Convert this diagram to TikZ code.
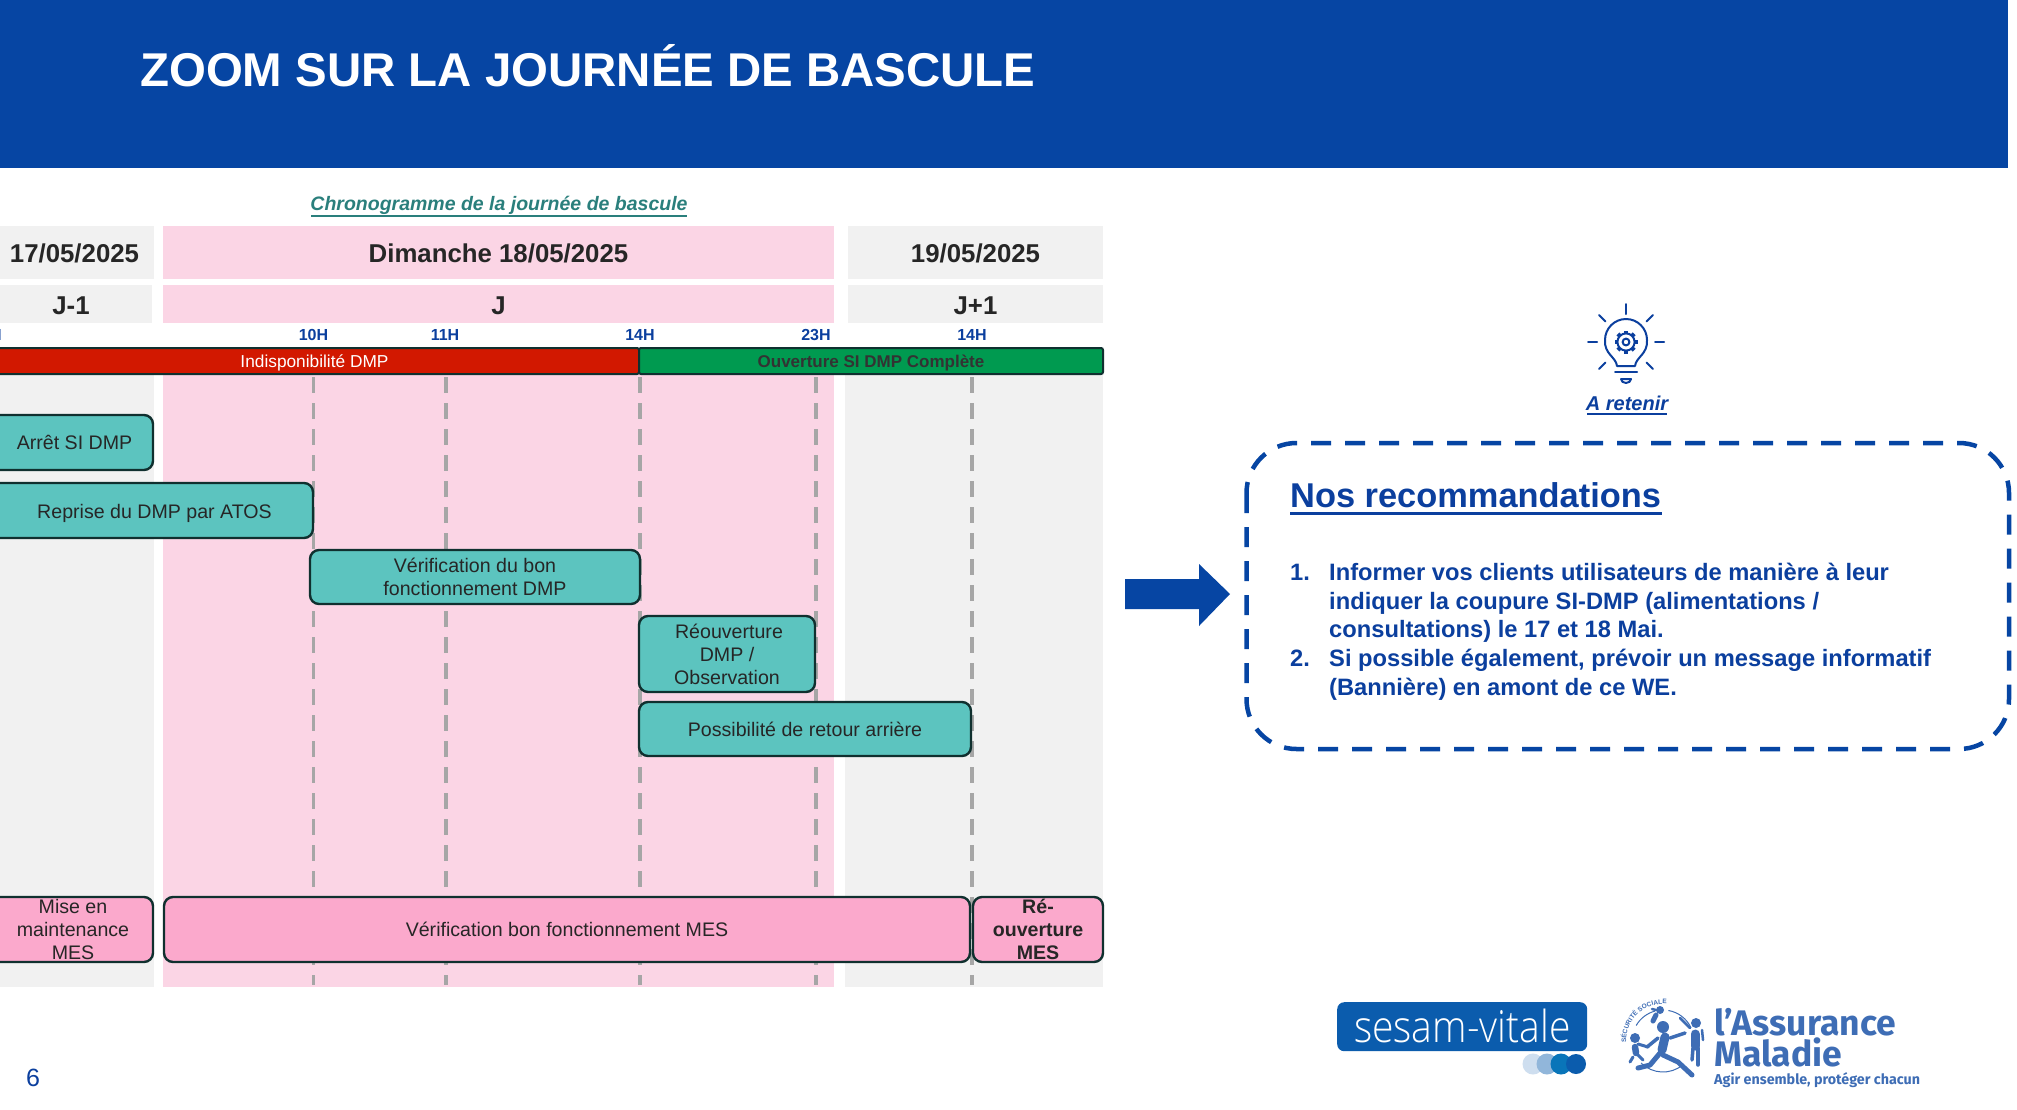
\documentclass[tikz,border=0pt]{standalone}
\usepackage{fontspec}
\setmainfont{Liberation Sans}
\newfontfamily\logofont{Fira Sans}
\newfontfamily\logolight{Open Sans Light}[]
\usetikzlibrary{decorations.text,calc}
\definecolor{hdr}{HTML}{0645A3}
\definecolor{navy}{HTML}{0B3F9E}
\definecolor{pinkbg}{HTML}{FBD5E5}
\definecolor{greybg}{HTML}{F1F1F1}
\definecolor{tealbox}{HTML}{5CC4BF}
\definecolor{pinkbox}{HTML}{FBA9CC}
\definecolor{edge}{HTML}{10302F}
\definecolor{redbar}{HTML}{D21800}
\definecolor{greenbar}{HTML}{009A50}
\definecolor{dashgrey}{HTML}{A6A6A6}
\definecolor{chrono}{HTML}{2A7F7C}
\definecolor{logoblue}{HTML}{0B5CAD}
\definecolor{amblue}{HTML}{3E6DB5}
\newcommand{\fsz}[1]{\fontsize{#1}{#1}\selectfont}
\tikzset{
  x=1pt,y=-1pt,
  band/.style={anchor=north west,inner sep=0pt,outer sep=0pt,align=center,font=\fsz{25.8}\bfseries,text=black!85,text height=20.6pt,text depth=0pt},
  box/.style={anchor=north west,draw=edge,line width=2.4pt,rounded corners=9pt,inner sep=0pt,outer sep=0pt,align=center,font=\fsz{19.6}\linespread{1.18}\selectfont,text=black!85},
  tealb/.style={box,fill=tealbox},
  pinkb/.style={box,fill=pinkbox},
  barb/.style={anchor=north west,draw=edge,line width=2pt,rounded corners=2pt,inner sep=0pt,outer sep=0pt,font=\fsz{17.3},text height=12.4pt,text depth=0pt},
  hour/.style={font=\fsz{16}\bfseries,text=navy,inner sep=0pt},
  guide/.style={draw=dashgrey,line width=3.2pt,dash pattern=on 16pt off 10pt},
  bulb/.style={draw=navy,line width=2pt,line cap=round,line join=round},
  rec/.style={anchor=west,inner sep=0pt,font=\fsz{23.7}\bfseries,text=navy,text height=21pt,text depth=5pt},
  logoname/.style={anchor=west,inner sep=0pt,text=amblue,font=\logofont\fsz{35.5}\bfseries,text height=24pt,text depth=0pt},
  person/.style={draw=amblue,line cap=round,line join=round}
}
\begin{document}
\begin{tikzpicture}
\useasboundingbox (0,0) rectangle (2017,1109);
\fill[white] (0,0) rectangle (2017,1109);
% header
\fill[hdr] (0,0) rectangle (2008,168);
\node[anchor=west,inner sep=0pt,text=white,font=\fsz{47.4}\bfseries] (title) at (140,66) {ZOOM SUR LA JOURNÉE DE BASCULE};
% caption
\node[inner sep=0pt,text=chrono,font=\fsz{19.5}\bfseries\itshape] (cap) at (499,205) {Chronogramme de la journée de bascule};
\draw[chrono,line width=1.6pt] (311,216) -- (687,216);
% column backgrounds
\fill[greybg] (0,374) rectangle (154,987);
\fill[pinkbg] (163,374) rectangle (834,987);
\fill[greybg] (845,374) rectangle (1103,987);
% day bands
\node[band,fill=greybg,minimum width=154pt,minimum height=53pt] (d17) at (0,226) {\hspace*{-5pt}17/05/2025};
\node[band,fill=pinkbg,minimum width=671pt,minimum height=53pt] (d18) at (163,226) {Dimanche 18/05/2025};
\node[band,fill=greybg,minimum width=255pt,minimum height=53pt] (d19) at (848,226) {19/05/2025};
\node[band,fill=greybg,minimum width=152pt,minimum height=38pt] (jm) at (0,285) {\hspace*{-10pt}J-1};
\node[band,fill=pinkbg,minimum width=671pt,minimum height=38pt] (j) at (163,285) {J};
\node[band,fill=greybg,minimum width=255pt,minimum height=38pt] (jp) at (848,285) {J+1};
% hours
\node[hour] (h10) at (313.5,335) {10H};
\node[hour] (h11) at (445,335) {11H};
\node[hour] (h14) at (640,335) {14H};
\node[hour] (h23) at (816,335) {23H};
\node[hour] (h14b) at (972,335) {14H};
\node[hour,anchor=east] (hz) at (2,335) {H};
% guides
\coordinate (g10) at (313.5,377);
\coordinate (g11) at (446,377);
\coordinate (g14) at (640,377);
\coordinate (g23) at (816,377);
\coordinate (g14b) at (972,377);
\foreach \g in {g10,g11,g14,g23,g14b}{
  \draw[guide] (\g) -- (\g |- 0,985);
}
% bars
\node[barb,fill=redbar,text=white,minimum width=649pt,minimum height=26pt] (indis) at (-10,348) {Indisponibilité DMP};
\node[barb,fill=greenbar,text=black!80,minimum width=464pt,minimum height=26pt,font=\fsz{17}\bfseries] (ouv) at (639,348) {Ouverture SI DMP Complète};
% tasks
\node[tealb,minimum width=163pt,minimum height=55pt] (arret) at (-10,415) {\hspace*{6pt}Arrêt SI DMP};
\node[tealb,minimum width=323pt,minimum height=55pt,text height=16pt,text depth=0pt] (reprise) at (-10,483) {\hspace*{6pt}Reprise du DMP par ATOS};
\node[tealb,minimum width=330pt,minimum height=54pt] (verif) at (310,550) {Vérification du bon\\fonctionnement DMP};
\node[tealb,minimum width=176pt,minimum height=76pt] (reouv) at (639,616) {\hspace*{4pt}Réouverture\\DMP /\\Observation};
\node[tealb,minimum width=332pt,minimum height=54pt] (retour) at (639,702) {Possibilité de retour arrière};
\node[pinkb,minimum width=163pt,minimum height=65pt] (mise) at (-10,897) {\hspace*{3pt}Mise en\\\hspace*{3pt}maintenance\\\hspace*{3pt}MES};
\node[pinkb,minimum width=806pt,minimum height=65pt] (vmes) at (164,897) {Vérification bon fonctionnement MES};
\node[pinkb,minimum width=130pt,minimum height=65pt,font=\fsz{19.6}\bfseries\linespread{1.18}\selectfont] (remes) at (973,897) {Ré-\\ouverture\\MES};
% page number
\node[inner sep=0pt,text=navy,font=\fsz{25}] (page) at (33,1078) {6};
% big arrow
\fill[hdr] (1125,579) -- (1199,579) -- (1199,564) -- (1230,594) -- (1199,626) -- (1199,609) -- (1125,609) -- cycle;
% bulb icon
\begin{scope}[shift={(1626,342)}]
  \draw[bulb] (-9,24) .. controls (-10,15) and (-22,12) .. (-21,-2) arc[start angle=180,end angle=360,radius=21] .. controls (22,12) and (10,15) .. (9,24) -- cycle;
  \draw[bulb] (-11,30) -- (11,30);
  \draw[bulb] (-5,37) -- (5,37) arc[start angle=0,end angle=180,x radius=5,y radius=4];
  \foreach \a in {0,45,135,180,225,315}{
    \draw[bulb] (\a:29) -- (\a:38);
  }
  \draw[bulb] (0,-28) -- (0,-38);
  \foreach \a in {0,45,...,315}{
    \draw[navy,line width=4pt] (\a:8.5) -- (\a:11.5);
  }
  \draw[bulb,fill=white] (0,0) circle[radius=8.6];
  \draw[bulb] (0,0) circle[radius=3.4];
\end{scope}
\node[inner sep=0pt,text=navy,font=\fsz{20}\bfseries\itshape] (ret) at (1627,403) {A retenir};
\draw[navy,line width=1.6pt] (1587,414) -- (1667,414);
% recommendations
\draw[hdr,line width=4.5pt,rounded corners=50pt,dash pattern=on 20pt off 14pt] (1246.5,443) rectangle (2009,749);
\node[anchor=west,inner sep=0pt,text=navy,font=\fsz{34.4}\bfseries] (nos) at (1290,495) {Nos recommandations};
\draw[navy,line width=3pt] (1290,513) -- (1662,513);
\node[rec] (n1) at (1290,572) {1.};
\node[rec] (l1) at (1329,572) {Informer vos clients utilisateurs de manière à leur};
\node[rec] (l2) at (1329,601) {indiquer la coupure SI-DMP (alimentations /};
\node[rec] (l3) at (1329,629) {consultations) le 17 et 18 Mai.};
\node[rec] (n2) at (1290,658) {2.};
\node[rec] (l4) at (1329,658) {Si possible également, prévoir un message informatif};
\node[rec] (l5) at (1329,687) {(Bannière) en amont de ce WE.};
% sesam-vitale logo
\node[anchor=north west,fill=logoblue,rounded corners=7pt,minimum width=250pt,minimum height=49pt,inner sep=0pt,text=white,font=\logolight\fsz{42}] (sesam) at (1337,1002) {\raisebox{1pt}{\scalebox{.93}[1.05]{sesam-vitale}}};
\fill[logoblue!20] (1533,1064) circle[radius=10.5];
\fill[logoblue!45] (1547,1064) circle[radius=10.5];
\fill[logoblue!85!cyan] (1561,1064) circle[radius=10.5];
\fill[logoblue] (1576,1064) circle[radius=10];
% assurance maladie logo
\coordinate (ring) at (1663,1041);
\draw[amblue,line width=1pt] ($(ring)+(-80:31)$) arc[start angle=-80,end angle=-25,radius=31];
\draw[amblue,line width=1pt] ($(ring)+(210:31)$) arc[start angle=210,end angle=255,radius=31];
\draw[amblue,line width=1pt] ($(ring)+(50:31)$) arc[start angle=50,end angle=135,radius=31];
% runner
\fill[amblue] (1663,1027) circle[radius=6];
\draw[person,line width=9pt] (1665,1037) -- (1662,1050);
\draw[person,line width=3.5pt] (1670,1038) -- (1685,1033);
\draw[person,line width=3.5pt] (1658,1038) -- (1647,1047);
\draw[person,line width=5pt] (1660,1053) -- (1650,1065) -- (1638,1068);
\draw[person,line width=5pt] (1663,1055) -- (1678,1062) -- (1692,1075);
% left child
\fill[amblue] (1635,1038) circle[radius=5];
\draw[person,line width=6.5pt] (1635,1047) -- (1636,1053);
\draw[person,line width=3pt] (1638,1044) -- (1648,1047);
\draw[person,line width=3pt] (1633,1057) -- (1630,1062);
\draw[person,line width=3pt] (1638,1055) -- (1643,1060);
% right child
\fill[amblue] (1696,1023) circle[radius=5];
\draw[person,line width=9pt] (1695,1034) -- (1695,1046);
\draw[person,line width=3.5pt] (1693,1048) -- (1692,1060);
\draw[person,line width=3.5pt] (1698,1048) -- (1698,1065);
\draw[person,line width=2.5pt] (1690,1028) -- (1680,1018);
\draw[person,line width=2.5pt] (1702,1030) -- (1703,1040);
% baby
\fill[amblue] (1660,1010) circle[radius=4];
\draw[person,line width=5pt] (1656,1015) -- (1653,1021);
\draw[person,line width=2.5pt] (1656,1010) -- (1652,1009);
% ring text
\path[decorate,decoration={text along path,text align=center,text={|\fsz{6.5}\bfseries\color{amblue}|SÉCURITÉ SOCIALE}}] ($(ring)+(178:37)$) arc[start angle=178,end angle=275,radius=37];
\node[logoname] (aa) at (1714,1023) {l’Assurance};
\node[logoname] (am) at (1714,1054) {Maladie};
\node[anchor=west,inner sep=0pt,text=amblue,font=\logofont\fsz{14.3}\bfseries] (ag) at (1714,1080) {Agir ensemble, protéger chacun};
\end{tikzpicture}
\end{document}
